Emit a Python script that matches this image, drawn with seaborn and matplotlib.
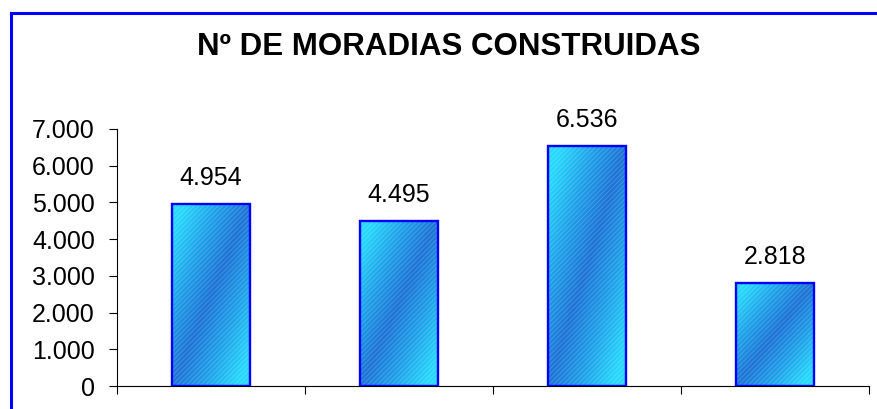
import numpy as np
import pandas as pd
import matplotlib
matplotlib.use("Agg")
import matplotlib.pyplot as plt
import seaborn as sns
from matplotlib.lines import Line2D
from matplotlib.patches import Rectangle
from matplotlib.colors import LinearSegmentedColormap

# Dados
categorias = ["1", "2", "3", "4"]
moradias = [4954, 4495, 6536, 2818]
y_ticks = [0, 1000, 2000, 3000, 4000, 5000, 6000, 7000]
titulo = "Nº DE MORADIAS CONSTRUIDAS"


def fmt_pt(v):
    """Formata números com ponto como separador de milhares."""
    return f"{v:,.0f}".replace(",", ".")


sns.set_theme(style="white")
plt.rcParams["font.family"] = ["Liberation Sans", "DejaVu Sans"]
plt.rcParams["hatch.linewidth"] = 0.6

W, H = 877, 409
fig = plt.figure(figsize=(W / 100, H / 100), dpi=100)
fig.patch.set_facecolor("white")
ax = fig.add_axes([117 / W, 1 - 386 / H, (869 - 117) / W, (386 - 129) / H])

df = pd.DataFrame({"categoria": categorias, "moradias": moradias})
sns.barplot(data=df, x="categoria", y="moradias", ax=ax, width=0.41,
            color="#1e90e0", saturation=1, edgecolor="#0000ff",
            linewidth=1.7, errorbar=None)

# Preenchimento em degradê diagonal com textura fina
cmap = LinearSegmentedColormap.from_list("azul", ["#1d74d6", "#1fa2ea", "#27d8fc"])
gx, gy = np.meshgrid(np.linspace(0, 1, 80), np.linspace(0, 1, 200))
grad = np.clip(np.abs(gx - gy) * 1.2, 0, 1)

for patch in list(ax.patches):
    x0, y0 = patch.get_xy()
    w, h = patch.get_width(), patch.get_height()
    im = ax.imshow(grad, cmap=cmap, vmin=0, vmax=1, origin="lower",
                   extent=[x0, x0 + w, y0, y0 + h], aspect="auto",
                   interpolation="bilinear", zorder=2)
    im.set_clip_path(patch)
    ax.add_patch(Rectangle((x0, y0), w, h, fill=False, hatch="///////",
                           edgecolor=(1, 1, 1, 0.2), linewidth=0, zorder=2.5))
    patch.set_facecolor("none")
    patch.set_zorder(3)

ax.set_xlim(-0.5, len(categorias) - 0.5)
ax.set_ylim(0, 7000)
ax.set_yticks(y_ticks)
ax.set_yticklabels([fmt_pt(v) for v in y_ticks])
ax.set_xticks(np.arange(len(categorias) + 1) - 0.5)
ax.set_xticklabels([])
ax.set_xlabel("")
ax.set_ylabel("")

ax.tick_params(axis="y", left=True, direction="out", length=6, width=0.8,
               pad=10, labelsize=18, colors="black")
ax.tick_params(axis="x", bottom=True, direction="out", length=6, width=0.8,
               colors="black")

sns.despine(ax=ax)
for side in ("left", "bottom"):
    ax.spines[side].set_color("black")
    ax.spines[side].set_linewidth(0.8)

ax.bar_label(ax.containers[0], labels=[fmt_pt(v) for v in moradias],
             padding=10, fontsize=18, color="black")

fig.text(449 / W, 1 - 47 / H, titulo, ha="center", va="center",
         fontsize=22.5, fontweight="bold", color="black")

# Moldura azul do gráfico
fx, fy = 10.5 / W, 1 - 12.5 / H
fig.add_artist(Line2D([fx, fx], [-0.05, fy], transform=fig.transFigure,
                      color="#0000ff", linewidth=2.2, solid_capstyle="projecting"))
fig.add_artist(Line2D([fx, 1.05], [fy, fy], transform=fig.transFigure,
                      color="#0000ff", linewidth=2.2, solid_capstyle="projecting"))

fig.savefig("out.png", dpi=100, facecolor="white")
